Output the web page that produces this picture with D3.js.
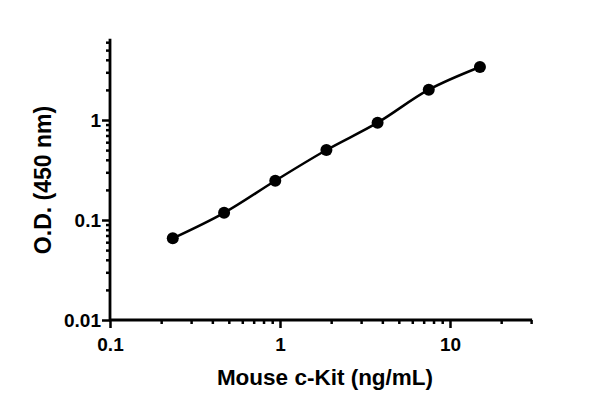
<!DOCTYPE html>
<html><head><meta charset="utf-8">
<script src="https://cdn.jsdelivr.net/npm/d3@7"></script>
<style>body{margin:0;background:#fff}svg{display:block}text{font-family:"Liberation Sans",Arial,sans-serif;font-weight:bold;fill:#000}</style>
</head><body>
<script>
const concentrations = [0.234, 0.469, 0.938, 1.875, 3.75, 7.5, 15];
const odValues = [0.0656, 0.118, 0.247, 0.501, 0.94, 2.01, 3.39];
const xTickLabels = [0.1, 1, 10];
const yTickLabels = [0.01, 0.1, 1];
const xTitle = "Mouse c-Kit (ng/mL)";
const yTitle = "O.D. (450 nm)";

const W = 600, H = 407;
const svg = d3.select("body").append("svg").attr("width", W).attr("height", H);

const x = d3.scaleLog().domain([0.1, 30]).range([110, 110 + 170 * Math.log10(300)]);
const y = d3.scaleLog().domain([0.01, 6.5]).range([320, 320 - 100 * Math.log10(650)]);

const xMinor = [];
for (let d = 0.1; d < 30; d *= 10) for (let k = 2; k <= 9; k++) { const v = +(d * k).toPrecision(3); if (v <= 30) xMinor.push(v); }
const yMinor = [];
for (let d = 0.01; d < 6.5; d *= 10) for (let k = 2; k <= 9; k++) { const v = +(d * k).toPrecision(3); if (v <= 6.5) yMinor.push(v); }

function styleText(g) {
  g.selectAll(".tick text").attr("font-size", 19).attr("font-family", "Liberation Sans, Arial, sans-serif")
    .attr("font-weight", "bold").attr("fill", "#000");
}

// X axis
const gx = svg.append("g").attr("transform", `translate(0,${y(0.01)})`);
gx.call(d3.axisBottom(x).tickValues(xMinor).tickSize(4).tickFormat(""));
gx.selectAll(".tick line").attr("stroke-width", 2.5);
const gx2 = svg.append("g").attr("transform", `translate(0,${y(0.01)})`);
gx2.call(d3.axisBottom(x).tickValues(xTickLabels).tickSize(8).tickPadding(0).tickFormat(d3.format("")));
gx2.selectAll(".tick line").attr("stroke-width", 2.5);
styleText(gx2);
gx2.selectAll(".tick text").attr("dy", null).attr("y", 31);

// Y axis
const gy = svg.append("g").attr("transform", `translate(${x(0.1)},0)`);
gy.call(d3.axisLeft(y).tickValues(yMinor).tickSize(4).tickFormat(""));
gy.selectAll(".tick line").attr("stroke-width", 2.5);
const gy2 = svg.append("g").attr("transform", `translate(${x(0.1)},0)`);
gy2.call(d3.axisLeft(y).tickValues(yTickLabels).tickSize(8).tickPadding(1).tickFormat(d3.format("")));
gy2.selectAll(".tick line").attr("stroke-width", 2.5);
styleText(gy2);
gy2.selectAll(".tick text").attr("dy", "0.36em");

svg.selectAll(".domain").remove();
svg.append("line").attr("x1", x(0.1) - 1).attr("x2", x(30) + 1).attr("y1", y(0.01)).attr("y2", y(0.01)).attr("stroke", "#000").attr("stroke-width", 2.8);
svg.append("line").attr("x1", x(0.1)).attr("x2", x(0.1)).attr("y1", y(6.5)).attr("y2", y(0.01) + 1).attr("stroke", "#000").attr("stroke-width", 2.8);

// curve
const pts = concentrations.map((c, i) => [c, odValues[i]]);
const line = d3.line().x(d => x(d[0])).y(d => y(d[1])).curve(d3.curveCatmullRom.alpha(0.5));
svg.append("path").attr("d", line(pts)).attr("fill", "none").attr("stroke", "#000").attr("stroke-width", 2.5);
svg.selectAll("circle.pt").data(pts).enter().append("circle").attr("class", "pt")
  .attr("cx", d => x(d[0])).attr("cy", d => y(d[1])).attr("r", 6).attr("fill", "#000");

// titles
svg.append("text").attr("x", 325).attr("y", 385).attr("text-anchor", "middle").attr("font-size", 22.5).text(xTitle);
svg.append("text").attr("transform", `translate(51,180) rotate(-90)`).attr("text-anchor", "middle").attr("font-size", 23).text(yTitle);
</script>
</body></html>
